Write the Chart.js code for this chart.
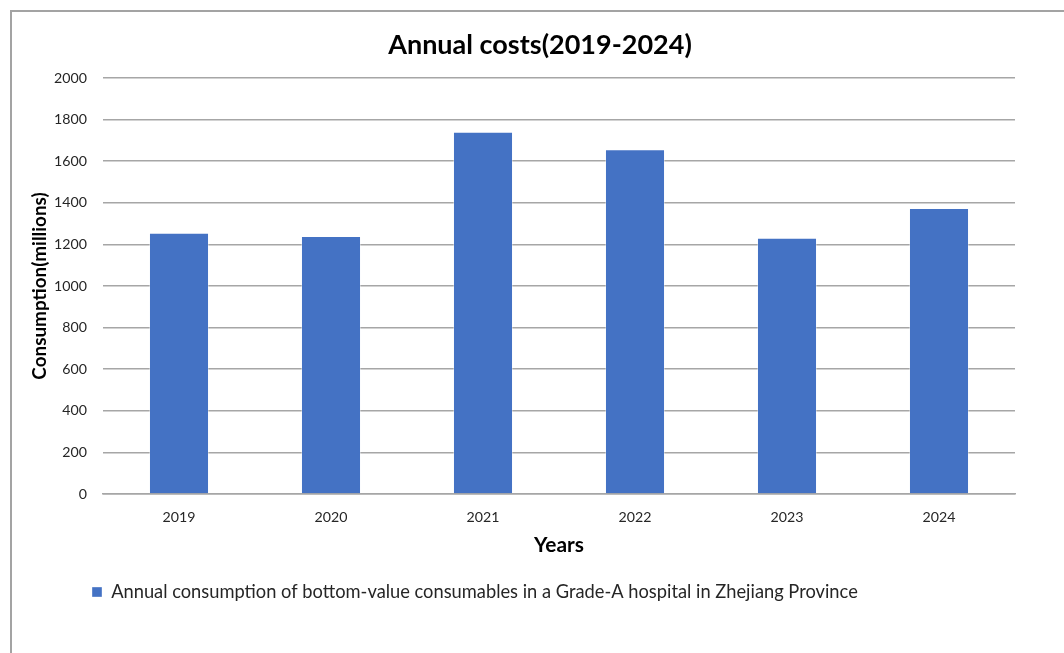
<!DOCTYPE html>
<html>
<head>
<meta charset="utf-8">
<script src="https://cdn.jsdelivr.net/npm/chart.js@4.4.1/dist/chart.umd.min.js"></script>
<style>
  html, body { margin: 0; padding: 0; background: #ffffff; }
  #wrap { position: relative; width: 1064px; height: 653px; overflow: hidden; }
  #frame { position: absolute; left: 10px; top: 10px; width: 1200px; height: 800px;
           border-left: 2px solid #a3a3a3; border-top: 2px solid #a3a3a3; box-sizing: border-box; }
  canvas { position: absolute; left: 0; top: 0; }
</style>
</head>
<body>
<div id="wrap">
  <div id="frame"></div>
  <canvas id="c" width="1064" height="653"></canvas>
</div>
<script>
// ---- data ----
const years = ['2019', '2020', '2021', '2022', '2023', '2024'];
const consumption = [1256, 1240, 1742, 1658, 1232, 1375];
const seriesLabel = 'Annual consumption of bottom-value consumables in a Grade-A hospital in Zhejiang Province';
const chartTitle = 'Annual costs(2019-2024)';
const xAxisTitle = 'Years';
const yAxisTitle = 'Consumption(millions)';
const yMin = 0, yMax = 2000, yStep = 200;

// ---- styling helpers ----
const FAMILY = 'Lato, "Noto Sans", sans-serif';
function fitSize(text, weight, target) {
  const c = document.createElement('canvas').getContext('2d');
  c.font = weight + ' 100px ' + FAMILY;
  return Math.round(1000 * target / c.measureText(text).width) / 10;
}
const titleSize = fitSize(chartTitle, 'bold', 304);
const tickSize = fitSize('2000', 'normal', 33);
const xTitleSize = fitSize(xAxisTitle, 'bold', 50);
const yTitleSize = fitSize(yAxisTitle, 'bold', 187);
const legendSize = fitSize(seriesLabel, 'normal', 749);

const LH = 1.2;
const titleLH = titleSize * LH, tickLH = tickSize * LH, xTitleLH = xTitleSize * LH, yTitleLH = yTitleSize * LH;
const areaTop = 78, areaBottom = 494, areaLeft = 103, areaRight = 1015;
const titleCenter = 45, titleCenterX = 540, tickCenter = 517, xTitleCenter = 545, legendCenter = 592, yTitleCenterX = 40;
const xTickPad = tickCenter - areaBottom - tickLH / 2;
// Chart.js reserves 2 x tick padding below the labels
const xTitlePadTop = xTitleCenter - areaBottom - tickLH - 2 * xTickPad - xTitleLH / 2;
const legendTop = legendCenter - 10 - legendSize / 2;
const xTitlePadBottom = legendTop - (xTitleCenter + xTitleLH / 2);
const legendHeight = legendSize + 20;

const blockShift = {
  id: 'blockShift',
  afterLayout(chart) {
    if (chart.legend) chart.legend.left = 82;
    const t = chart.titleBlock;
    if (t) { const w = t.right - t.left; t.left = titleCenterX - w / 2; t.right = titleCenterX + w / 2; }
  }
};

new Chart(document.getElementById('c'), {
  type: 'bar',
  data: {
    labels: years,
    datasets: [{
      label: seriesLabel,
      data: consumption,
      backgroundColor: '#4472C4',
      borderColor: 'rgba(255,255,255,0.35)',
      borderWidth: 1,
      barPercentage: 0.395,
      categoryPercentage: 1.0
    }]
  },
  options: {
    responsive: false,
    animation: false,
    devicePixelRatio: 1,
    layout: { padding: { left: 0, right: 1064 - areaRight, top: 0, bottom: 653 - legendTop - legendHeight } },
    plugins: {
      title: {
        display: true, text: chartTitle, color: '#000000',
        font: { family: FAMILY, size: titleSize, weight: 'bold' },
        padding: { top: titleCenter - titleLH / 2, bottom: areaTop - titleCenter - titleLH / 2 }
      },
      legend: {
        display: true, position: 'bottom', align: 'start',
        labels: {
          boxWidth: 10, boxHeight: 10, padding: 10, color: '#262626',
          font: { family: FAMILY, size: legendSize }
        }
      },
      tooltip: { enabled: false }
    },
    scales: {
      x: {
        grid: { display: false, drawTicks: false },
        border: { display: true, color: '#a6a6a6', width: 1.5 },
        ticks: { color: '#262626', padding: xTickPad, font: { family: FAMILY, size: tickSize } },
        title: {
          display: true, text: xAxisTitle, color: '#000000',
          font: { family: FAMILY, size: xTitleSize, weight: 'bold' },
          padding: { top: xTitlePadTop, bottom: xTitlePadBottom }
        }
      },
      y: {
        min: yMin, max: yMax,
        afterFit(scale) { scale.width = areaLeft; },
        grid: { color: '#a6a6a6', lineWidth: 1.5, drawTicks: false },
        border: { display: false },
        ticks: { stepSize: yStep, color: '#262626', padding: 16, font: { family: FAMILY, size: tickSize },
                 callback: (v) => String(v) },
        title: {
          display: true, text: yAxisTitle, color: '#000000',
          font: { family: FAMILY, size: yTitleSize, weight: 'bold' },
          padding: { top: yTitleCenterX - yTitleLH / 2, bottom: 0 }
        }
      }
    }
  },
  plugins: [blockShift]
});
</script>
</body>
</html>
